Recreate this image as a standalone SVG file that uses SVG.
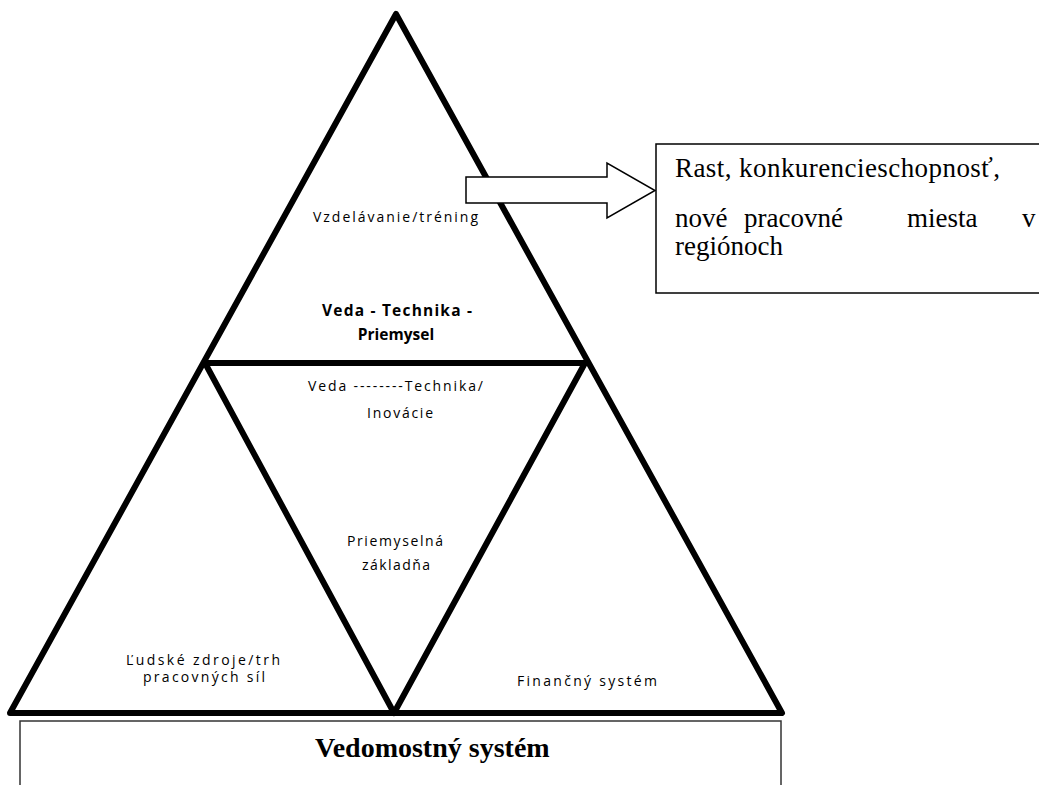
<svg xmlns="http://www.w3.org/2000/svg" width="1039" height="785" viewBox="0 0 1039 785">
<style>
.edge{fill:none;stroke:#000;stroke-width:6;stroke-linejoin:round;stroke-linecap:round}
.lbl{font-family:"Open Sans","Liberation Sans",Arial,sans-serif;font-size:14px;fill:#000;text-anchor:start}
.lblb{font-family:"Open Sans","Liberation Sans",Arial,sans-serif;font-size:15.5px;font-weight:bold;fill:#000;text-anchor:middle}
.serif{font-family:"Liberation Serif","Times New Roman",serif;font-size:27px;fill:#000}
.box{fill:#fff;stroke:#000;stroke-width:1.5}
</style>
<rect width="1039" height="785" fill="#fff"/>
<g id="connectors">
<path class="edge" d="M10,713 L396,14 L782,713 Z"/>
<path class="edge" d="M205,363 L585,363 L394,713 Z"/>
</g>
<g id="node-vzdelavanie">
<text class="lbl" x="313" y="222" textLength="165" lengthAdjust="spacing">Vzdelávanie/tréning</text>
</g>
<g id="node-vtp">
<text class="lblb" x="397" y="316" textLength="150" lengthAdjust="spacing">Veda - Technika -</text>
<text class="lblb" x="396" y="340">Priemysel</text>
</g>
<g id="node-inovacie">
<text class="lbl" x="308" y="391" textLength="175" lengthAdjust="spacing">Veda --------Technika/</text>
<text class="lbl" x="367" y="418" textLength="66" lengthAdjust="spacing">Inovácie</text>
</g>
<g id="node-priemyselna">
<text class="lbl" x="347" y="546" textLength="96" lengthAdjust="spacing">Priemyselná</text>
<text class="lbl" x="362" y="570" textLength="68" lengthAdjust="spacing">základňa</text>
</g>
<g id="node-ludske">
<text class="lbl" x="126" y="665" textLength="154" lengthAdjust="spacing">Ľudské zdroje/trh</text>
<text class="lbl" x="143" y="682" textLength="122" lengthAdjust="spacing">pracovných síl</text>
</g>
<g id="node-financny">
<text class="lbl" x="517" y="686" textLength="140" lengthAdjust="spacing">Finančný systém</text>
</g>
<g id="node-vedomostny">
<rect class="box" x="20" y="721" width="761" height="80" style="stroke:#333"/>
<text class="serif" x="315" y="757" style="font-weight:bold;font-size:28px">Vedomostný systém</text>
</g>
<g id="node-arrow">
<polygon class="box" points="466,177 607,177 607,163 655,190.5 607,218 607,203 466,203"/>
</g>
<g id="node-rast">
<rect class="box" x="656" y="144" width="400" height="149"/>
<text class="serif" x="675" y="177" textLength="325" lengthAdjust="spacing">Rast, konkurencieschopnosť,</text>
<text class="serif" y="227"><tspan x="675">nové</tspan><tspan x="744">pracovné</tspan><tspan x="907">miesta</tspan><tspan x="1022">v</tspan></text>
<text class="serif" x="675" y="255">regiónoch</text>
</g>
</svg>
